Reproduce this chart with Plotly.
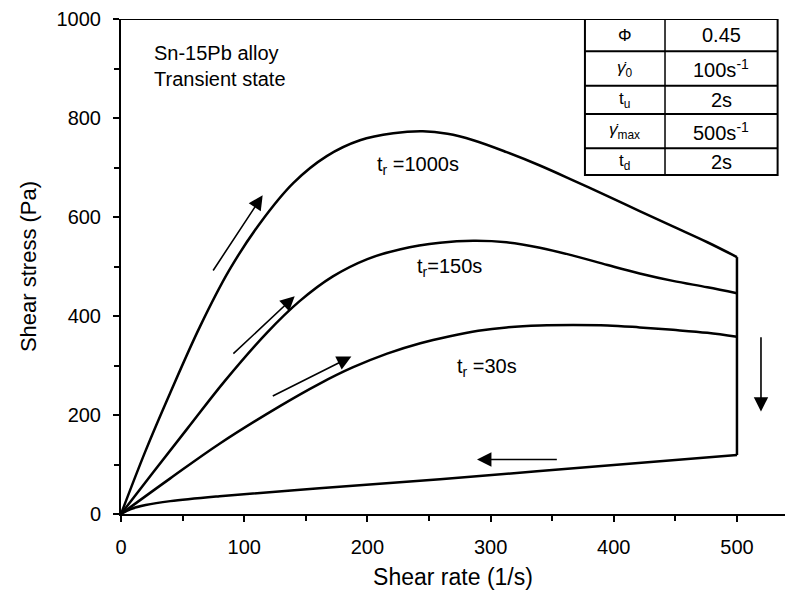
import plotly.graph_objects as go

# ---------------- data ----------------
x_1000 = [0, 20, 40, 64, 88, 113, 140, 167, 194, 221, 245, 265, 286, 313, 340, 367, 395, 421, 448, 476, 500]
y_1000 = [0, 128, 245, 378, 493, 588, 669, 723, 755, 769, 773, 768, 755, 731, 704, 674, 642, 612, 581, 549, 519]

x_150 = [0, 26, 54, 84, 118, 145, 172, 200, 227, 259, 286, 313, 340, 367, 395, 421, 448, 476, 500]
y_150 = [0, 84, 173, 268, 365, 430, 480, 515, 535, 548, 552, 549, 538, 522, 503, 486, 471, 458, 446]

x_30 = [0, 40, 80, 129, 161, 188, 216, 243, 267, 290, 313, 340, 367, 395, 421, 448, 476, 500]
y_30 = [0, 72, 142, 218, 263, 296, 324, 345, 359, 370, 377, 381, 382, 381, 377, 372, 366, 358]

x_drop = [500, 500]
y_drop = [519, 119]

x_return = [500, 380, 259, 161, 80, 40, 20, 8, 0]
y_return = [119, 95, 70, 52, 36, 26, 18, 10, 0]

curve_labels = ["t<sub>r</sub> =1000s", "t<sub>r</sub>=150s", "t<sub>r</sub> =30s"]
curve_label_x = [206, 239, 271]
curve_label_y = [705, 497, 295]

# arrows: (tail_x, tail_y, head_x, head_y)
arrows = [
    (74, 489, 115, 644),
    (90, 321, 141, 440),
    (122, 237, 187, 318),
    (355, 110, 289, 110),
    (519.5, 360, 519.5, 207),
]

table_params = ["Φ", "<i>γ̇</i><sub>0</sub>", "t<sub>u</sub>", "<i>γ̇</i><sub>max</sub>", "t<sub>d</sub>"]
table_values = ["0.45", "100s<sup>-1</sup>", "2s", "500s<sup>-1</sup>", "2s"]

x_ticks = [0, 100, 200, 300, 400, 500]
y_ticks = [0, 200, 400, 600, 800, 1000]

# ---------------- figure ----------------
FONT = "Liberation Sans, Arial, sans-serif"
line_style = dict(color="black", width=2.5, shape="spline", smoothing=1.0)

fig = go.Figure()
for xs, ys in [(x_1000, y_1000), (x_150, y_150), (x_30, y_30)]:
    fig.add_trace(go.Scatter(x=xs, y=ys, mode="lines", line=line_style,
                             showlegend=False, hoverinfo="skip"))
fig.add_trace(go.Scatter(x=x_drop, y=y_drop, mode="lines",
                         line=dict(color="black", width=2.5), showlegend=False))
fig.add_trace(go.Scatter(x=x_return, y=y_return, mode="lines",
                         line=dict(color="black", width=2.5, shape="spline", smoothing=1.0),
                         showlegend=False))

annotations = []
# text block
annotations.append(dict(x=25, y=906, xref="x", yref="y", text="Sn-15Pb alloy<br>Transient state",
                        showarrow=False, xanchor="left", yanchor="middle", align="left",
                        font=dict(family=FONT, size=20, color="black")))
for t, lx, ly in zip(curve_labels, curve_label_x, curve_label_y):
    annotations.append(dict(x=lx, y=ly, xref="x", yref="y", text=t, showarrow=False,
                            xanchor="left", yanchor="middle",
                            font=dict(family=FONT, size=20, color="black")))
for tx, ty, hx, hy in arrows:
    annotations.append(dict(x=hx, y=hy, ax=tx, ay=ty, xref="x", yref="y",
                            axref="x", ayref="y", text="", showarrow=True,
                            arrowhead=2, arrowsize=1.8, arrowwidth=1.6, arrowcolor="black",
                            standoff=0, startstandoff=0))

# table (positions in data coordinates)
tx0, txm, tx1 = 376.6, 441.6, 533
row_edges = [1000, 935, 865, 808, 739, 685]
shapes = []
shapes.append(dict(type="rect", x0=tx0, x1=tx1, y0=row_edges[-1], y1=row_edges[0],
                   xref="x", yref="y", line=dict(color="black", width=2), fillcolor="white",
                   layer="above"))
shapes.append(dict(type="line", x0=txm, x1=txm, y0=row_edges[-1], y1=row_edges[0],
                   xref="x", yref="y", line=dict(color="black", width=1.5), layer="above"))
for e in row_edges[1:-1]:
    shapes.append(dict(type="line", x0=tx0, x1=tx1, y0=e, y1=e, xref="x", yref="y",
                       line=dict(color="black", width=2), layer="above"))
for i, (p, v) in enumerate(zip(table_params, table_values)):
    yc = (row_edges[i] + row_edges[i + 1]) / 2
    annotations.append(dict(x=(tx0 + txm) / 2, y=yc, xref="x", yref="y", text=p,
                            showarrow=False, font=dict(family=FONT, size=17, color="black")))
    annotations.append(dict(x=(txm + tx1) / 2, y=yc, xref="x", yref="y", text=v,
                            showarrow=False, font=dict(family=FONT, size=20, color="black")))
# top frame line
shapes.append(dict(type="line", x0=0, x1=tx0, y0=1000, y1=1000, xref="x", yref="y",
                   line=dict(color="black", width=2)))

fig.update_layout(
    width=789, height=604,
    margin=dict(l=121, r=4, t=19, b=90),
    paper_bgcolor="white", plot_bgcolor="white",
    font=dict(family=FONT, color="black"),
    annotations=annotations, shapes=shapes,
    xaxis=dict(range=[0, 539], tickvals=x_ticks, ticks="outside", ticklen=6, tickwidth=1.5,
               tickcolor="black", showline=True, linecolor="black", linewidth=2,
               showgrid=False, zeroline=False, tickfont=dict(size=20),
               ticklabelstandoff=8,
               minor=dict(tickvals=[50, 150, 250, 350, 450], ticks="outside", ticklen=5,
                          tickcolor="black", tickwidth=1.5),
               title=dict(text="Shear rate (1/s)", font=dict(size=23), standoff=12)),
    yaxis=dict(range=[0, 1000], tickvals=y_ticks, ticks="outside", ticklen=6, tickwidth=1.5,
               tickcolor="black", showline=True, linecolor="black", linewidth=2,
               showgrid=False, zeroline=False, tickfont=dict(size=20),
               ticklabelstandoff=8,
               minor=dict(tickvals=[100, 300, 500, 700, 900], ticks="outside", ticklen=5,
                          tickcolor="black", tickwidth=1.5),
               title=dict(text="Shear stress (Pa)", font=dict(size=22), standoff=14)),
)

fig.write_html("out.html")
